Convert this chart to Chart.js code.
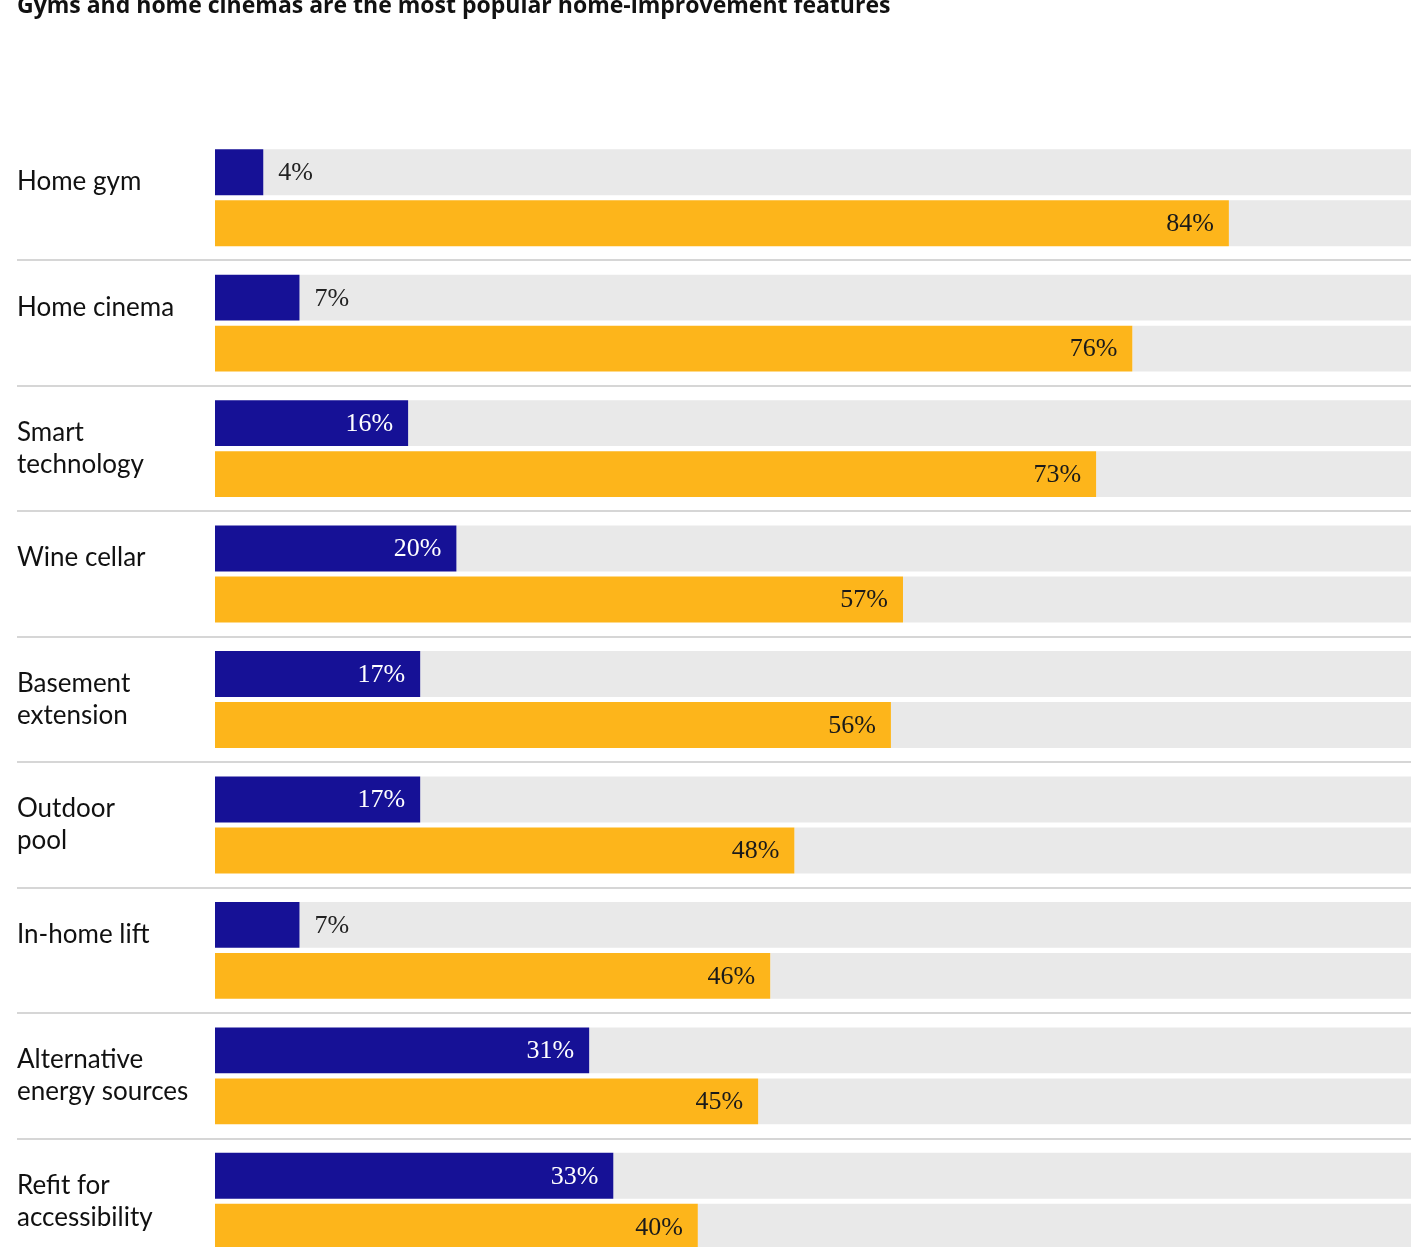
<!DOCTYPE html>
<html>
<head>
<meta charset="utf-8">
<script src="https://cdn.jsdelivr.net/npm/chart.js@4.4.1/dist/chart.umd.min.js"></script>
<style>
  html, body { margin: 0; padding: 0; background: #fff; overflow: hidden; }
  canvas { display: block; }
</style>
</head>
<body>
<!-- canvas runs past the window on purpose: the reference is cropped right and bottom -->
<canvas id="chart" width="1422" height="1296"></canvas>
<script>
const title = 'Gyms and home cinemas are the most popular home-improvement features';

// two-line labels; single-line ones get an empty second line so they sit on top
const categories = [
  ['Home gym', ''],
  ['Home cinema', ''],
  ['Smart', 'technology'],
  ['Wine cellar', ''],
  ['Basement', 'extension'],
  ['Outdoor', 'pool'],
  ['In-home lift', ''],
  ['Alternative', 'energy sources'],
  ['Refit for', 'accessibility']
];
const navyValues = [4, 7, 16, 20, 17, 17, 7, 31, 33];
const yellowValues = [84, 76, 73, 57, 56, 48, 46, 45, 40];

const NAVY = '#161196';
const YELLOW = '#fdb51b';
const GREY = '#e9e9e9';
const rest = arr => arr.map(v => 100 - v);

// Title drawn at top, partly cut off like the reference
const titlePlugin = {
  id: 'topTitle',
  afterDraw(chart) {
    const ctx = chart.ctx;
    ctx.save();
    ctx.font = 'bold 23px "Open Sans"';
    ctx.fillStyle = '#111';
    ctx.textBaseline = 'alphabetic';
    ctx.fillText(title, 17, 13);
    ctx.restore();
  }
};

// Value labels: inside the bar when it is long enough, otherwise just after it
const valueLabels = {
  id: 'valueLabels',
  afterDatasetsDraw(chart) {
    const ctx = chart.ctx;
    ctx.save();
    ctx.font = '26px "Liberation Serif"';
    ctx.textBaseline = 'middle';
    chart.data.datasets.forEach((ds, i) => {
      if (!ds.showLabel) return;
      chart.getDatasetMeta(i).data.forEach((bar, j) => {
        const v = ds.data[j];
        const txt = v + '%';
        if (v >= 10) {
          ctx.textAlign = 'right';
          ctx.fillStyle = ds.insideColor;
          ctx.fillText(txt, bar.x - 15, bar.y + 1);
        } else {
          ctx.textAlign = 'left';
          ctx.fillStyle = '#222';
          ctx.fillText(txt, bar.x + 15, bar.y + 1);
        }
      });
    });
    ctx.restore();
  }
};

new Chart(document.getElementById('chart'), {
  type: 'bar',
  data: {
    labels: categories,
    datasets: [
      { data: navyValues, backgroundColor: NAVY, stack: 'a', showLabel: true, insideColor: '#fff' },
      { data: rest(navyValues), backgroundColor: GREY, stack: 'a' },
      { data: yellowValues, backgroundColor: YELLOW, stack: 'b', showLabel: true, insideColor: '#1a1a1a' },
      { data: rest(yellowValues), backgroundColor: GREY, stack: 'b' }
    ]
  },
  options: {
    indexAxis: 'y',
    responsive: false,
    animation: false,
    categoryPercentage: 0.813,
    barPercentage: 0.9,
    layout: { padding: { top: 135, left: 17, right: 0, bottom: 0 } },
    plugins: { legend: { display: false }, tooltip: { enabled: false } },
    scales: {
      x: { display: false, stacked: true, min: 0, max: 100 },
      y: {
        border: { display: false },
        grid: {
          offset: true,
          lineWidth: 2,
          tickLength: 198,
          color: c => c.index === 0 ? 'rgba(0,0,0,0)' : '#d6d6d6'
        },
        ticks: {
          crossAlign: 'far',
          padding: 0,
          color: '#111',
          font: { family: 'Lato', size: 26, lineHeight: 1.23 }
        },
        afterFit(scale) { scale.width = 198; }
      }
    }
  },
  plugins: [valueLabels, titlePlugin]
});
</script>
</body>
</html>
